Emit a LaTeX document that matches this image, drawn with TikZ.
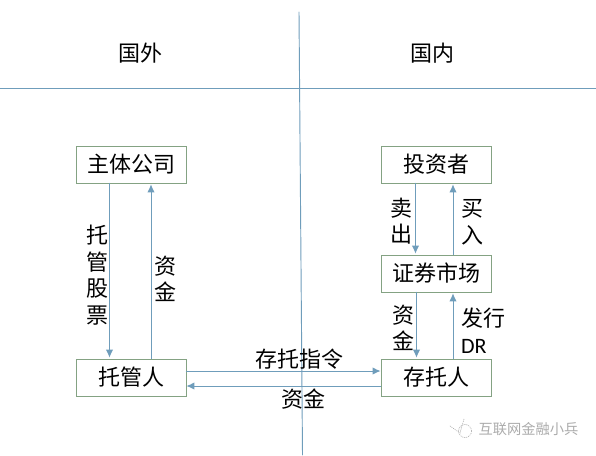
\documentclass[tikz,border=0pt]{standalone}
\usepackage{fontspec}
\setmainfont{Noto Sans CJK SC}
\newfontfamily\latinfont{Carlito}
\usepackage{xcolor}
\usetikzlibrary{calc,positioning,arrows.meta}

\definecolor{linkblue}{HTML}{6F9DBB}
\definecolor{boxgreen}{HTML}{84A283}
\definecolor{markgray}{HTML}{ABABAB}

\tikzset{
  entity/.style={draw=boxgreen, line width=0.6pt, minimum width=82.5pt, minimum height=27.75pt,
    inner sep=0pt, text=black, font=\fontsize{16.5}{20}\selectfont},
  flow/.style={draw=linkblue, line width=0.7pt, -{Latex[length=6pt,width=5.5pt]}, shorten >=0.7pt},
  axisline/.style={draw=linkblue, line width=0.7pt},
  note/.style={align=center, inner sep=0pt, text=black, font=\fontsize{16.5}{20}\selectfont},
  watermark/.style={inner sep=0pt, text=markgray, font=\fontsize{10.7}{14}\selectfont}
}

\begin{document}
\begin{tikzpicture}[x=0.75pt, y=-0.75pt, line cap=round]
  \useasboundingbox (0,0) rectangle (596,455);

  % region lines
  \coordinate (west) at (0,88);
  \coordinate (east) at (596,88);
  \coordinate (top) at (299,12);
  \coordinate (bottom) at (302.5,455);
  \draw[axisline] (west) -- (east);
  \draw[axisline] (top) -- (bottom);

  \node[note] (abroad) at (140,53) {国外};
  \node[note] (home) at (432,53) {国内};

  % left column
  \node[entity] (company) at (131,164.5) {主体公司};
  \node[entity] (custodian) at (131,377.5) {托管人};

  % right column
  \node[entity] (investor) at (436,164.5) {投资者};
  \node[entity] (market) at (436,273.5) {证券市场};
  \node[entity] (depositary) at (436,377.5) {存托人};

  \draw[flow] ($(company.south)+(-21.5,0)$) -- ($(custodian.north)+(-21.5,0)$);
  \draw[flow] ($(custodian.north)+(20,0)$) -- ($(company.south)+(20,0)$);
  \draw[flow] ($(investor.south)+(-20.5,0)$) -- ($(market.north)+(-20.5,0)$);
  \draw[flow] ($(market.north)+(17,0)$) -- ($(investor.south)+(17,0)$);
  \draw[flow] ($(market.south)+(-19.5,0)$) -- ($(depositary.north)+(-19.5,0)$);
  \draw[flow] ($(depositary.north)+(17,0)$) -- ($(market.south)+(17,0)$);
  \draw[flow, shorten >=0pt] ($(custodian.east)+(0,-6.5)$) -- ($(depositary.west)+(0,-6.5)$);
  \draw[flow, shorten >=0pt] ($(depositary.west)+(0,8.5)$) -- ($(custodian.east)+(0,8.5)$);

  \node[note] (stocklabel) at (97,275) {托\\管\\股\\票};
  \node[note] (cashleft) at (165,279) {资\\金};
  \node[note] (selllabel) at (401,221) {卖\\出};
  \node[note] (buylabel) at (472,222) {买\\入};
  \node[note] (cashright) at (403,328) {资\\金};
  \node[note, align=left] (issuelabel) at (483,331) {发行\\{\latinfont DR}};
  \node[note] (orderlabel) at (299,359) {存托指令};
  \node[note] (cashbottom) at (303,399) {资金};

  % small mark, lower right
  \node[watermark] (source) at (528.5,429) {互联网金融小兵};
  \coordinate (birdcentre) at (465,431);
  \coordinate (birdtail) at (450,426);
  \coordinate (birdwing) at (460,433);
  \coordinate (birdhead) at (464,419);
  \draw[markgray, line width=0.5pt, densely dotted] (birdcentre) circle[radius=6.5];
  \draw[markgray, line width=0.5pt, densely dotted] (birdtail) -- (birdwing) -- (birdhead);
\end{tikzpicture}
\end{document}
